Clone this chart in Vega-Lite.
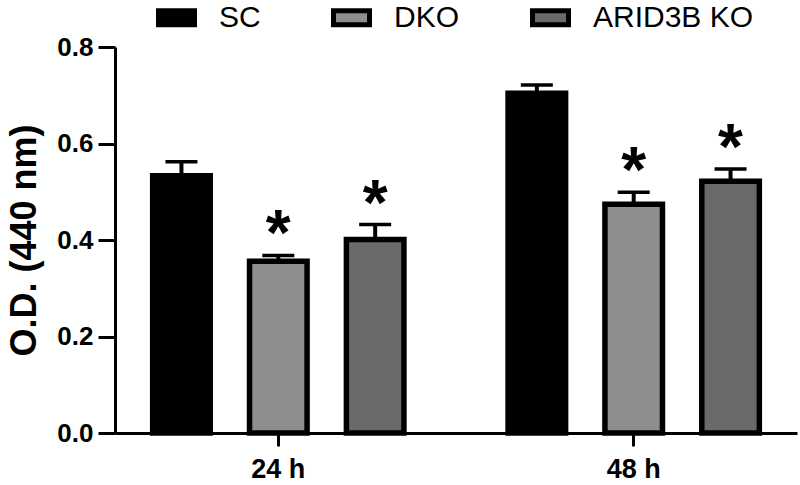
{
  "$schema": "https://vega.github.io/schema/vega-lite/v6.json",
  "width": 682,
  "height": 386,
  "autosize": "none",
  "padding": {"left": 115, "top": 47, "right": 3, "bottom": 52},
  "config": {
    "font": "Liberation Sans",
    "view": {"stroke": null},
    "axis": {"grid": false, "domainColor": "black", "tickColor": "black", "labelColor": "black", "titleColor": "black"}
  },
  "data": {
    "values": [
      {"time": "24 h", "group": "SC", "od": 0.533, "upper": 0.562, "sig": ""},
      {"time": "24 h", "group": "DKO", "od": 0.356, "upper": 0.368, "sig": "*"},
      {"time": "24 h", "group": "ARID3B KO", "od": 0.401, "upper": 0.432, "sig": "*"},
      {"time": "48 h", "group": "SC", "od": 0.704, "upper": 0.721, "sig": ""},
      {"time": "48 h", "group": "DKO", "od": 0.474, "upper": 0.499, "sig": "*"},
      {"time": "48 h", "group": "ARID3B KO", "od": 0.522, "upper": 0.547, "sig": "*"}
    ]
  },
  "encoding": {
    "x": {
      "field": "time", "type": "nominal", "sort": ["24 h", "48 h"],
      "scale": {"paddingInner": 0.293, "paddingOuter": 0.106},
      "axis": {"title": null, "labelAngle": 0, "labelFontSize": 27, "labelFontWeight": "bold", "tickSize": 13, "tickWidth": 3, "domainWidth": 3, "labelPadding": 10}
    },
    "xOffset": {
      "field": "group", "type": "nominal", "sort": ["SC", "DKO", "ARID3B KO"],
      "scale": {"paddingInner": 0.406, "paddingOuter": 0}
    }
  },
  "layer": [
    {
      "mark": {"type": "bar", "stroke": "black", "strokeWidth": 5.5},
      "encoding": {
        "y": {
          "field": "od", "type": "quantitative", "scale": {"domain": [0, 0.8]},
          "title": "O.D. (440 nm)",
          "axis": {"values": [0, 0.2, 0.4, 0.6, 0.8], "format": ".1f", "labelFontSize": 26, "labelFontWeight": "bold", "tickSize": 17, "tickWidth": 3, "domainWidth": 3, "labelPadding": 5, "titleFontSize": 36, "titleFontWeight": "bold", "titlePadding": 13}
        },
        "fill": {
          "field": "group", "type": "nominal", "sort": ["SC", "DKO", "ARID3B KO"],
          "scale": {"domain": ["SC", "DKO", "ARID3B KO"], "range": ["#000000", "#8e8e8e", "#6a6a6a"]},
          "legend": {
            "title": null, "orient": "none", "legendX": 41, "legendY": -50, "direction": "horizontal",
            "symbolType": "M-1,-0.389H1V0.389H-1Z", "symbolSize": 1296,
            "symbolStrokeColor": "black", "symbolStrokeWidth": 5, "symbolOpacity": 1,
            "labelFontSize": 30, "labelColor": "black", "labelOffset": 22, "columnPadding": 62, "labelLimit": 400
          }
        }
      }
    },
    {
      "mark": {"type": "rule", "strokeWidth": 4, "color": "black"},
      "encoding": {
        "y": {"field": "od", "type": "quantitative", "title": "O.D. (440 nm)"},
        "y2": {"field": "upper"}
      }
    },
    {
      "mark": {"type": "tick", "color": "black", "size": 32, "thickness": 3.5, "opacity": 1},
      "encoding": {
        "y": {"field": "upper", "type": "quantitative", "title": "O.D. (440 nm)"}
      }
    },
    {
      "mark": {"type": "text", "fontSize": 64, "fontWeight": "bold", "dy": 0, "baseline": "alphabetic", "color": "black"},
      "encoding": {
        "y": {"field": "upper", "type": "quantitative", "title": "O.D. (440 nm)"},
        "text": {"field": "sig"}
      }
    }
  ]
}
